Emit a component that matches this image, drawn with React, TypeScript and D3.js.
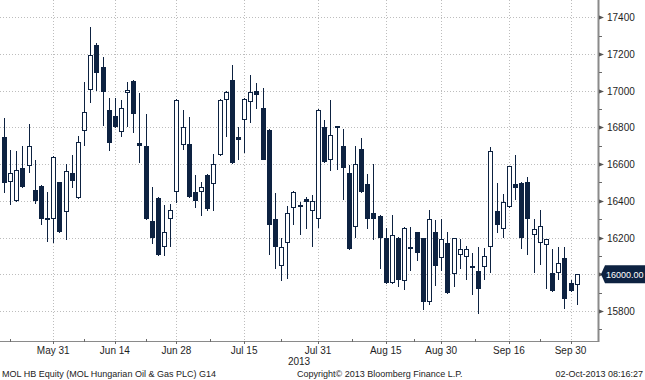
import React from "react";
import * as d3 from "d3";

// Daily OHLC, MOL HB Equity, 21-May-2013 .. 01-Oct-2013 (trading days)
const opens = [16750,16505,16400,16580,16590,16460,16480,16300,16300,16500,16340,16550,16415,16780,17005,17250,17130,16895,16860,16775,16990,17055,16715,16700,16290,16415,16150,16300,16450,16705,16710,16450,16450,16540,16490,16650,16950,17060,16750,16840,16940,17000,16905,16785,16300,16045,16170,16360,16380,16410,16345,16300,16800,16620,16805,16700,16550,16255,16680,16490,16335,16320,16195,15950,16200,15965,16140,16230,16195,15850,16230,16090,16170,16000,16105,16095,16045,16020,16040,16150,16345,16245,16365,16490,16495,16500,16215,16170,16160,16005,16005,16090,15950,15940];
const highs = [16850,16675,16670,16700,16820,16625,16485,16450,16645,16505,16600,16650,16755,17050,17345,17260,17185,16960,16960,16950,17050,17060,16990,16875,16475,16420,16380,16385,16955,16895,16855,16540,16505,16545,16655,16955,17000,17140,16800,16960,17085,17040,17015,16790,16440,16195,16370,16455,16395,16420,16430,16900,16840,16950,16805,16790,16595,16700,16740,16545,16600,16325,16250,16325,16205,16255,16260,16230,16200,16350,16295,16300,16230,16200,16190,16155,16115,16150,16145,16695,16495,16435,16590,16650,16500,16530,16300,16350,16190,16135,16150,16150,15970,16000];
const lows = [16440,16380,16395,16470,16550,16385,16270,16175,16170,16225,16185,16470,16410,16700,16935,17000,16810,16670,16795,16750,16800,16770,16605,16295,16165,16100,16100,16150,16390,16675,16415,16360,16315,16345,16345,16645,16750,16600,16625,16660,16825,16900,16620,16105,16030,15965,15975,16270,16215,16245,16150,16250,16605,16560,16570,16405,16130,16195,16445,16245,16185,16030,15945,15945,15930,15915,16020,16070,15805,15830,15935,16020,15895,15930,16030,15970,15885,15785,15970,16005,16225,16200,16360,16405,16140,16105,16005,16050,15920,15905,15970,15810,15905,15830];
const closes = [16495,16550,16570,16475,16700,16400,16300,16305,16640,16230,16565,16510,16720,16885,17195,17095,16995,16715,16800,16905,17005,16875,16700,16300,16200,16105,16230,16350,16950,16800,16420,16400,16475,16355,16600,16950,16995,16605,16730,16955,16995,16975,16625,16270,16150,16150,16335,16450,16375,16395,16400,16895,16610,16760,16795,16580,16135,16600,16450,16300,16300,16200,15950,16215,15970,16250,16150,16115,15850,16300,16045,16190,15900,16195,16135,16140,16040,15920,16100,16670,16270,16395,16590,16470,16200,16300,16245,16265,16190,15910,16060,15865,15910,16000];

const xTickIndex = [8, 18, 28, 39, 51, 62, 71, 82, 92];
const xTickLabels = ["May 31", "Jun 14", "Jun 28", "Jul 15", "Jul 31", "Aug 15", "Aug 30", "Sep 16", "Sep 30"];
const xMinorIndex = [1, 13, 23, 33.5, 45, 56.5, 66.5, 76.5, 87];
const yTicks = [15800, 16000, 16200, 16400, 16600, 16800, 17000, 17200, 17400];
const yMinor = [15700, 15900, 16100, 16300, 16500, 16700, 16900, 17100, 17300];
const lastPrice = 16000;
const yearLabel = "2013";
const footLeft = "MOL HB Equity (MOL Hungarian Oil & Gas PLC) G14";
const footMid = "Copyright\u00A9 2013 Bloomberg Finance L.P.";
const footRight = "02-Oct-2013 08:16:27";

const W = 645, H = 380;
const AXIS_X = 598;
const AXIS_Y = 341;
const NAVY = "#0d2241";
const GRID = "#bdbdbd";
const FONT = "'Liberation Sans', Arial, sans-serif";

export default function App() {
  const x = d3.scaleLinear().domain([0, opens.length - 1]).range([4, 576.7]);
  const y = d3.scaleLinear().domain([15642, 17494]).range([340, 0]);
  const cy = (v: number) => Math.round(y(v));

  const candles = opens.map((o, i) => {
    const c = closes[i];
    const cx = Math.round(x(i));
    const up = c >= o;
    const top = cy(Math.max(o, c));
    const bot = cy(Math.min(o, c));
    const hi = cy(highs[i]);
    const lo = cy(lows[i]);
    return (
      <g key={i}>
        <line x1={cx + 0.5} x2={cx + 0.5} y1={hi} y2={lo} stroke={NAVY} strokeWidth={1} />
        {up ? (
          <rect x={cx - 1.5} y={top + 0.5} width={4} height={Math.max(bot - top - 1, 1)} fill="#ffffff" stroke={NAVY} strokeWidth={1} />
        ) : (
          <rect x={cx - 2} y={top} width={5} height={Math.max(bot - top, 2)} fill={NAVY} />
        )}
      </g>
    );
  });

  const py = y(lastPrice);

  return (
    <svg width={W} height={H} style={{ position: "absolute", left: 0, top: 0, background: "#fff" }} fontFamily={FONT}>
      <rect x={0} y={0} width={W} height={H} fill="#ffffff" />
      {yTicks.map((t) => (
        <line key={"hg" + t} x1={0} x2={AXIS_X - 1} y1={cy(t) + 0.5} y2={cy(t) + 0.5} stroke={GRID} strokeDasharray="1,2" />
      ))}
      {xTickIndex.map((t) => (
        <line key={"vg" + t} x1={Math.round(x(t)) + 0.5} x2={Math.round(x(t)) + 0.5} y1={0} y2={AXIS_Y} stroke={GRID} strokeDasharray="1,2" />
      ))}
      {candles}
      <line x1={0} x2={AXIS_X} y1={AXIS_Y + 0.5} y2={AXIS_Y + 0.5} stroke="#8a8a8a" strokeWidth={1} />
      {xTickIndex.map((t) => (
        <line key={"xt" + t} x1={Math.round(x(t)) + 0.5} x2={Math.round(x(t)) + 0.5} y1={AXIS_Y} y2={AXIS_Y + 3} stroke="#6a6a6a" />
      ))}
      {xMinorIndex.map((t) => (
        <line key={"xm" + t} x1={Math.round(x(t)) + 0.5} x2={Math.round(x(t)) + 0.5} y1={AXIS_Y - 2} y2={AXIS_Y + 1} stroke="#6a6a6a" />
      ))}
      {xTickIndex.map((t, i) => (
        <text key={"xl" + t} x={x(t)} y={354} fontSize={10} textAnchor="middle" fill="#1e1e1e">
          {xTickLabels[i]}
        </text>
      ))}
      <text x={AXIS_X / 2} y={365} fontSize={10} textAnchor="middle" fill="#1e1e1e">{yearLabel}</text>
      <line x1={AXIS_X + 0.5} x2={AXIS_X + 0.5} y1={0} y2={AXIS_Y + 1} stroke="#8a8a8a" strokeWidth={2} />
      {yMinor.map((t) => (
        <line key={"ym" + t} x1={AXIS_X + 1} x2={AXIS_X + 4} y1={cy(t) + 0.5} y2={cy(t) + 0.5} stroke="#6a6a6a" />
      ))}
      {yTicks.map((t) => (
        <g key={"yt" + t}>
          <path d={`M${AXIS_X + 1},${cy(t) - 1.5} L${AXIS_X + 6},${cy(t) + 0.5} L${AXIS_X + 1},${cy(t) + 2.5} Z`} fill="#555" />
          {t !== lastPrice && (
            <text x={607} y={cy(t) + 4} fontSize={10} fill="#1e1e1e">{t}</text>
          )}
        </g>
      ))}
      <path d={`M${601},${py} L${605},${py - 9} L${645},${py - 9} L${645},${py + 9} L${605},${py + 9} Z`} fill={NAVY} />
      <text x={606} y={py + 3.5} fontSize={9} fill="#ffffff">{lastPrice.toFixed(2)}</text>
      <text x={2} y={377} fontSize={9} fill="#222">{footLeft}</text>
      <text x={297} y={377} fontSize={9} fill="#222">{footMid}</text>
      <text x={643} y={377} fontSize={9} fill="#222" textAnchor="end">{footRight}</text>
    </svg>
  );
}
